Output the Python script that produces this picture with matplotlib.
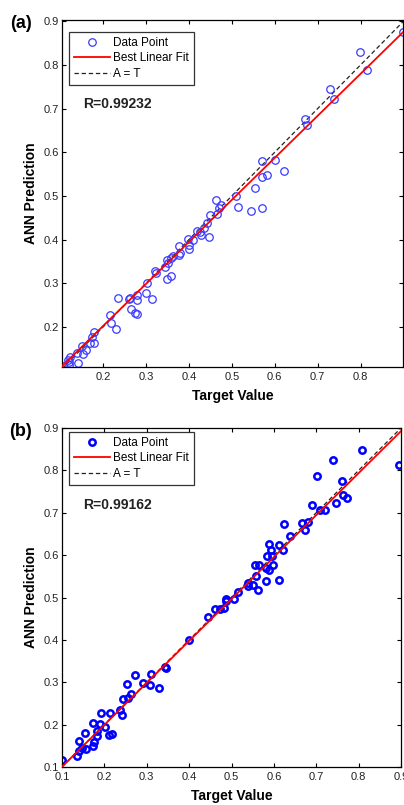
import numpy as np
import matplotlib
matplotlib.use('Agg')
import matplotlib.pyplot as plt

plt.rcParams['font.family'] = ['Liberation Sans', 'DejaVu Sans']

# ---- panel (a) data ----
target_a = [0.898, 0.798, 0.816, 0.729, 0.737, 0.670, 0.675, 0.571, 0.600, 0.571,
            0.583, 0.621, 0.555, 0.510, 0.462, 0.515, 0.545, 0.571, 0.474, 0.471,
            0.448, 0.466, 0.443, 0.436, 0.425, 0.419, 0.427, 0.446, 0.410, 0.397,
            0.400, 0.400, 0.376, 0.376, 0.380, 0.363, 0.359, 0.349, 0.352, 0.344,
            0.348, 0.357, 0.320, 0.324, 0.303, 0.299, 0.314, 0.278, 0.278, 0.262,
            0.260, 0.234, 0.264, 0.274, 0.278, 0.215, 0.219, 0.229, 0.178, 0.174,
            0.170, 0.178, 0.151, 0.159, 0.153, 0.138, 0.122, 0.117, 0.120, 0.141,
            0.107, 0.120]
output_a = [0.876, 0.829, 0.788, 0.746, 0.722, 0.676, 0.662, 0.579, 0.583, 0.543,
            0.549, 0.557, 0.519, 0.500, 0.491, 0.474, 0.466, 0.472, 0.479, 0.472,
            0.456, 0.459, 0.437, 0.426, 0.418, 0.420, 0.410, 0.405, 0.399, 0.401,
            0.388, 0.378, 0.385, 0.365, 0.370, 0.362, 0.357, 0.353, 0.347, 0.338,
            0.309, 0.316, 0.329, 0.324, 0.301, 0.278, 0.263, 0.274, 0.261, 0.267,
            0.263, 0.265, 0.241, 0.232, 0.229, 0.228, 0.209, 0.194, 0.188, 0.177,
            0.163, 0.162, 0.156, 0.147, 0.137, 0.140, 0.131, 0.125, 0.120, 0.117,
            0.110, 0.112]
fit_a = (0.9625, 0.0097)   # slope, intercept
r_a = 'R=0.99232'

# ---- panel (b) data ----
target_b = [0.896, 0.808, 0.740, 0.701, 0.761, 0.763, 0.773, 0.747, 0.691, 0.708,
            0.720, 0.667, 0.681, 0.674, 0.623, 0.638, 0.612, 0.622, 0.589, 0.593,
            0.584, 0.595, 0.556, 0.565, 0.598, 0.581, 0.589, 0.558, 0.581, 0.612,
            0.538, 0.538, 0.551, 0.563, 0.515, 0.507, 0.487, 0.487, 0.460, 0.483,
            0.474, 0.444, 0.400, 0.342, 0.346, 0.329, 0.309, 0.307, 0.290, 0.272,
            0.253, 0.264, 0.255, 0.245, 0.238, 0.242, 0.213, 0.192, 0.217, 0.212,
            0.190, 0.202, 0.174, 0.182, 0.182, 0.176, 0.172, 0.155, 0.157, 0.139,
            0.147, 0.141, 0.135, 0.101]
output_b = [0.813, 0.849, 0.825, 0.786, 0.774, 0.743, 0.735, 0.722, 0.719, 0.707,
            0.707, 0.676, 0.679, 0.660, 0.674, 0.644, 0.623, 0.613, 0.627, 0.613,
            0.597, 0.597, 0.577, 0.577, 0.577, 0.570, 0.564, 0.550, 0.540, 0.542,
            0.535, 0.526, 0.530, 0.518, 0.514, 0.497, 0.497, 0.491, 0.472, 0.476,
            0.472, 0.454, 0.400, 0.336, 0.334, 0.287, 0.320, 0.294, 0.298, 0.318,
            0.297, 0.273, 0.263, 0.260, 0.234, 0.222, 0.227, 0.227, 0.179, 0.175,
            0.202, 0.194, 0.204, 0.184, 0.172, 0.159, 0.149, 0.180, 0.142, 0.161,
            0.145, 0.137, 0.126, 0.117]
fit_b = (0.990, 0.0015)
r_b = 'R=0.99162'

fig = plt.figure(figsize=(4.04, 8.05), dpi=100)

panels = [
    dict(t=target_a, y=output_a, fit=fit_a, r=r_a, tag='(a)',
         rect=[62/404, 1-367/805, 341/404, 347/805],
         xlim=(0.104, 0.899), ylim=(0.108, 0.903),
         xt=[0.2, 0.3, 0.4, 0.5, 0.6, 0.7, 0.8],
         yt=[0.2, 0.3, 0.4, 0.5, 0.6, 0.7, 0.8, 0.9],
         mc='#3a3aff', mew=0.9, ms=5.4, tag_y=1-23/805,
         leg_top=(367-32)/347, r_y=(367-104)/347),
    dict(t=target_b, y=output_b, fit=fit_b, r=r_b, tag='(b)',
         rect=[62/404, 1-767/805, 339/404, 339/805],
         xlim=(0.1, 0.9), ylim=(0.1, 0.9),
         xt=[0.1, 0.2, 0.3, 0.4, 0.5, 0.6, 0.7, 0.8, 0.9],
         yt=[0.1, 0.2, 0.3, 0.4, 0.5, 0.6, 0.7, 0.8, 0.9],
         mc='#0000ff', mew=1.8, ms=4.6, tag_y=1-432/805,
         leg_top=(767-432)/339, r_y=(767-505)/339),
]

for p in panels:
    ax = fig.add_axes(p['rect'])
    t = np.array(p['t'])
    y = np.array(p['y'])
    ax.plot(t, y, 'o', mfc='none', mec=p['mc'], mew=p['mew'], ms=p['ms'],
            label='Data Point', zorder=2)
    xs = np.array(p['xlim'])
    ax.plot(xs, p['fit'][0]*xs + p['fit'][1], color='#ff0000', lw=1.3,
            label='Best Linear Fit', zorder=3)
    ax.plot(xs, xs, color='#222222', lw=0.9, dashes=(3.5, 2.2),
            label='A = T', zorder=1)
    ax.set_xlim(p['xlim'])
    ax.set_ylim(p['ylim'])
    ax.set_xticks(p['xt'])
    ax.set_yticks(p['yt'])
    ax.set_xticklabels(['%.1f' % v for v in p['xt']])
    ax.set_yticklabels(['%.1f' % v for v in p['yt']])
    ax.tick_params(direction='in', top=True, right=True, length=2.8,
                   width=0.8, labelsize=8, colors='black', labelcolor='#222222')
    ax.tick_params(axis='y', pad=2.5)
    ax.tick_params(axis='x', pad=3.5)
    for s in ax.spines.values():
        s.set_linewidth(0.9)
    ax.set_xlabel('Target Value', fontsize=10, fontweight='bold', labelpad=5)
    ax.set_ylabel('ANN Prediction', fontsize=10, fontweight='bold', labelpad=4)
    leg = ax.legend(loc='upper left', bbox_to_anchor=(0.021, p['leg_top']),
                    borderaxespad=0, fontsize=8.5, frameon=True, fancybox=False,
                    edgecolor='black', handlelength=3.1, handletextpad=0.25,
                    labelspacing=0.3, borderpad=0.4, numpoints=1)
    leg.get_frame().set_linewidth(0.9)
    ax.text(0.0616, p['r_y'], p['r'], transform=ax.transAxes, fontsize=10,
            fontweight='bold', va='center', ha='left', color='#222222')
    fig.text(21/404, p['tag_y'], p['tag'], fontsize=13, fontweight='bold',
             ha='center', va='center')

fig.savefig('out.png', dpi=100)
